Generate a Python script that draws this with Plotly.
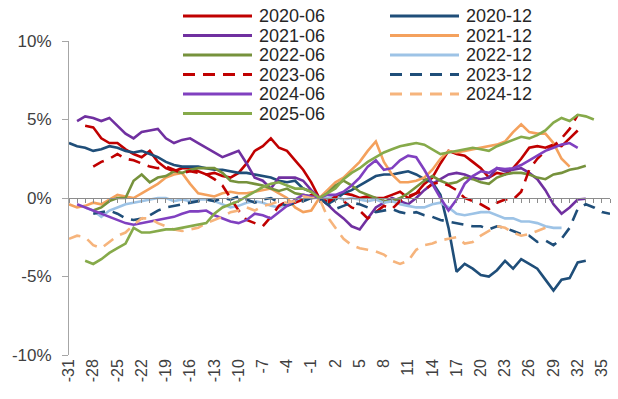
import plotly.graph_objects as go

X = list(range(-31, 37))
TICK_VALS = list(range(-31, 36, 3))
TICK_TEXT = [str(v) for v in TICK_VALS]
Y_TICKS = [-10, -5, 0, 5, 10]

NAMES = ["2020-06", "2020-12", "2021-06", "2021-12", "2022-06", "2022-12",
         "2023-06", "2023-12", "2024-06", "2024-12", "2025-06"]

# values (%) for x = -31, -30, ... ; None where the series has no point
s2020_06 = [None, None, 4.6, 4.5, 3.8, 3.5, 3.5, 3.1, 2.8, 2.6, 3.0, 2.3, 1.9, 1.7, 1.9, 1.9,
            1.7, 1.5, 1.6, 1.4, 1.3, 1.6, 2.2, 3.0, 3.3, 3.8, 3.2, 3.0, 2.4, 1.8, 1.0,
            0,
            -0.2, 0.1, 0.3, 0.2, 0.0, 0.1, 0.0, 0.0, 0.2, 0.4, 0.0, 0.3, 0.9, 1.3, 2.2, 3.0,
            2.8, 2.7, 2.3, 1.9, 1.3, 1.6, 1.5, 1.9, 2.5, 3.2, 3.3, 3.2, 3.4, 3.3, 3.8, 4.3]
s2020_12 = [3.5, 3.3, 3.2, 3.0, 3.1, 3.3, 3.2, 3.0, 2.9, 3.0, 2.8, 2.6, 2.3, 2.1, 2.0, 2.0,
            2.0, 1.9, 1.8, 1.8, 1.7, 1.6, 1.6, 1.5, 1.4, 1.3, 1.1, 1.0, 1.1, 0.6, 0.4,
            0,
            -0.4, -0.1, 0.3, 0.5, 0.8, 1.1, 1.4, 1.5, 1.5, 1.6, 1.7, 1.5, 1.2, 1.0, 0.2, -1.9,
            -4.7, -4.2, -4.5, -4.9, -5.0, -4.6, -4.0, -4.5, -3.9, -4.2, -4.5, -5.2, -5.9, -5.2,
            -5.1, -4.1, -4.0]
s2021_06 = [None, 4.9, 5.2, 5.1, 4.9, 5.1, 4.6, 4.1, 3.8, 4.2, 4.3, 4.4, 3.8, 3.5, 3.7, 3.8,
            3.5, 3.2, 2.9, 2.6, 2.8, 3.0, 2.2, 1.3, 1.1, 0.6, 1.3, 1.3, 1.3, 1.1, 0.5,
            0,
            -0.4, -0.9, -1.3, -1.8, -2.0, -1.3, -0.6, -0.3, 0.0, -0.2, -0.4, 0.0, 0.5, 0.9, 1.2,
            1.5, 1.6, 1.5, 1.3, 1.2, 1.3, 1.9, 1.7, 1.8, 1.9, 1.6, 1.2, 0.5, -0.4, -1.0, -0.6,
            -0.1, -0.05]
s2021_12 = [-0.4, -0.6, -0.5, -0.3, -0.4, -0.1, 0.2, 0.1, 0.0, 0.3, 0.6, 0.9, 1.3, 1.5, 1.6, 0.9,
            0.3, 0.2, 0.1, 0.3, 0.4, 0.3, 0.3, 0.4, 0.5, 0.6, 0.3, 0.0, -0.6, -0.9, -0.8,
            0,
            0.5, 1.0, 1.3, 1.8, 2.3, 3.0, 3.6, 2.3, 1.5, 1.0, 1.0, 1.1, 1.3, 1.8, 2.5, 3.0,
            2.9, 3.0, 3.1, 3.2, 3.3, 3.4, 3.6, 4.2, 4.7, 4.2, 4.1, 4.1, 3.5, 2.5, 2.0]
s2022_06 = [None, None, None, -0.8, -0.6, -0.2, 0.0, 0.0, 1.1, 1.5, 1.0, 1.3, 1.4, 1.7, 1.6, 1.8,
            1.9, 1.9, 1.9, 1.6, 1.1, 1.0, 1.0, 0.9, 0.8, 0.6, 0.45, 0.6, 0.3, 0.2, 0.1,
            0,
            0.3, 0.8, 1.1, 0.8, 0.4, 0.2, 0.0, -0.2, -0.2, 0.0, 0.3, 0.7, 1.1, 1.4, 1.1, 0.9,
            1.0, 1.3, 1.2, 1.0, 0.9, 1.3, 1.5, 1.6, 1.6, 1.5, 1.3, 1.2, 1.5, 1.6, 1.8, 1.9, 2.05]
s2022_12 = [None, None, -0.6, -0.8, -1.2, -0.8, -0.6, -0.4, -0.3, -0.2, -0.1, 0.0, 0.0, -0.2,
            -0.1, -0.2, -0.1, -0.1, -0.2, -0.4, -0.6, -0.5, -0.3, -0.2, -0.3, -0.5, -0.6, -0.4,
            -0.2, -0.1, 0.0,
            0,
            0.0, 0.1, -0.1, 0.0, -0.1, -0.2, -0.1, -0.3, -0.2, -0.4, -0.5, -0.6, -0.6, -0.4, -0.3,
            -0.6, -1.0, -1.1, -1.0, -0.9, -0.9, -1.1, -1.3, -1.3, -1.5, -1.5, -1.6, -1.8, -1.9, -1.9]
s2023_06 = [None, None, None, 2.0, 2.3, 2.5, 2.8, 2.5, 2.4, 2.2, 2.0, 1.9, 2.0, 1.8, 1.6, 1.7,
            1.6, 1.5, 1.2, 0.8, 0.0, -0.8, -1.4, -1.6, -1.8, -1.2, -0.5, -0.2, -0.3, -0.1, 0.2,
            0,
            -0.3, 0.1, -0.2, -0.6, -0.8, -1.3, -0.9, -0.5, -0.7, -0.2, 0.1, 0.3, 0.5, 0.9, 1.0,
            0.8, 0.5, 0.0, -0.2, -0.4, -0.7, -0.3, -0.1, -0.1, 0.4, 1.8, 2.5, 3.0, 3.3, 3.8, 4.4, 5.3]
s2023_12 = [None, None, None, -1.0, -0.9, -0.8, -1.0, -1.3, -1.4, -1.3, -1.1, -0.8, -0.6, -0.5,
            -0.4, -0.3, -0.2, -0.1, -0.2, 0.0, -0.1, 0.1, -0.1, -0.3, -0.1, 0.0, -0.3, -0.5, -0.3,
            -0.2, 0.0,
            0,
            -0.4, -0.7, -0.5, -0.3, -0.4, -0.6, -0.9, -0.8, -0.7, -0.9, -1.0, -0.9, -1.1, -1.2,
            -1.4, -1.5, -1.6, -1.7, -1.8, -1.8, -2.0, -1.8, -1.9, -2.1, -2.3, -2.4, -2.8, -2.7,
            -3.0, -2.6, -1.9, -0.7, -0.4, -0.6, -0.9, -1.0]
s2024_06 = [None, -0.4, -0.6, -0.8, -1.0, -1.2, -1.4, -1.6, -1.7, -1.6, -1.5, -1.4, -1.3, -1.2,
            -1.0, -0.85, -0.85, -0.8, -1.1, -1.3, -1.5, -1.6, -1.4, -1.0, -1.1, -1.3, -0.9, -0.5,
            -0.1, 0.2, 0.1,
            0,
            0.2, 0.2, 0.4, 0.8, 1.3, 2.0, 2.4, 1.8, 1.9, 2.4, 2.7, 2.6, 1.8, 0.9, 0.0, -0.8,
            -0.1, 0.9, 1.4, 1.7, 1.6, 1.9, 1.85, 1.9, 2.1, 2.4, 2.7, 3.0, 3.2, 3.4, 3.5, 3.2]
s2024_12 = [-2.6, -2.4, -2.5, -3.0, -3.2, -2.8, -2.4, -2.2, -1.7, -1.3, -1.3, -1.6, -1.8, -2.0,
            -2.1, -2.0, -1.9, -1.6, -1.4, -1.2, -0.9, -0.8, -0.6, -0.8, -0.5, -0.4, -0.2, -0.3,
            -0.2, 0.1, 0.0,
            0,
            -1.2, -1.9, -2.6, -3.0, -3.2, -3.3, -3.4, -3.6, -4.0, -4.2, -4.0, -3.3, -3.0, -2.9,
            -2.7, -2.6, -2.5, -2.9, -2.8, -2.4, -2.1, -1.8, -1.9, -2.2, -2.4, -2.3, -2.1, -1.9]
s2025_06 = [None, None, -4.0, -4.2, -3.9, -3.5, -3.2, -2.9, -1.9, -2.2, -2.2, -2.1, -2.0, -2.0,
            -1.9, -1.8, -1.7, -1.6, -1.0, -0.6, -0.4, -0.2, 0.1, 0.4, 0.7, 0.9, 1.0, 0.8, 0.6,
            0.6, 0.4,
            0,
            0.3, 0.6, 1.2, 1.6, 1.9, 2.3, 2.6, 2.9, 3.1, 3.3, 3.4, 3.5, 3.4, 3.1, 2.8, 2.9,
            3.0, 3.1, 3.2, 3.1, 3.0, 3.3, 3.5, 3.7, 3.9, 3.8, 4.0, 4.3, 4.8, 5.1, 4.9, 5.3,
            5.2, 5.0]

SERIES = [s2020_06, s2020_12, s2021_06, s2021_12, s2022_06, s2022_12,
          s2023_06, s2023_12, s2024_06, s2024_12, s2025_06]
COLORS = ["#C00000", "#1F4E79", "#7030A0", "#F4A15D", "#76923C", "#9DC3E6",
          "#C00000", "#1F4E79", "#8040C0", "#F6B47C", "#86AA4A"]
DASHED = [False, False, False, False, False, False, True, True, False, True, False]
DASH = "12px,8px"


def pad(vals):
    return list(vals) + [None] * (len(X) - len(vals))


fig = go.Figure()
for i, (name, vals, col, dsh) in enumerate(zip(NAMES, SERIES, COLORS, DASHED)):
    fig.add_trace(go.Scatter(
        x=X, y=pad(vals), name=name, mode="lines", showlegend=False,
        xaxis="x" if i == 0 else "x2",
        line=dict(color=col, width=2.6, dash=DASH if dsh else "solid"),
    ))

# plot-area geometry in pixels (layout only)
W, H = 618, 399
ML, MR, MT, MB = 69, 8, 41, 44
PW, PH = W - ML - MR, H - MT - MB


def px_x(px):
    return (px - ML) / PW


def px_y(py):
    return (H - MB - py) / PH


# manual two-column legend
shapes = []
annotations = []
COL_LINE = [(183, 252), (390, 459)]
COL_TEXT = [257, 464]
for i, (name, col, dsh) in enumerate(zip(NAMES, COLORS, DASHED)):
    c, r = i % 2, i // 2
    yy = px_y(16 + r * 19.5)
    shapes.append(dict(type="line", xref="paper", yref="paper",
                       x0=px_x(COL_LINE[c][0]), x1=px_x(COL_LINE[c][1]), y0=yy, y1=yy,
                       line=dict(color=col, width=3, dash=DASH if dsh else "solid")))
    annotations.append(dict(text=name, xref="paper", yref="paper", x=px_x(COL_TEXT[c]), y=yy,
                            xanchor="left", yanchor="middle", showarrow=False,
                            font=dict(size=18, color="#262626",
                                      family="Arial, Liberation Sans, sans-serif")))

fig.update_layout(
    width=W, height=H,
    margin=dict(l=ML, r=MR, t=MT, b=MB, autoexpand=False),
    paper_bgcolor="white", plot_bgcolor="white",
    font=dict(family="Arial, Liberation Sans, sans-serif", color="#404040"),
    shapes=shapes, annotations=annotations,
    xaxis=dict(range=[-31, 36], tickmode="array", tickvals=TICK_VALS, ticktext=TICK_TEXT,
               tickangle=-90, showline=False, ticks="", showgrid=False, zeroline=False,
               automargin=False, tickfont=dict(size=16, color="#404040")),
    xaxis2=dict(overlaying="x", matches="x", anchor="free", position=0.5,
                showline=True, linecolor="#8C8C8C", linewidth=1,
                ticks="outside", ticklen=4, tickcolor="#8C8C8C", tickmode="linear",
                tick0=-31, dtick=1, showticklabels=False, showgrid=False, zeroline=False,
                automargin=False),
    yaxis=dict(range=[-10, 10], tickmode="array", tickvals=Y_TICKS,
               ticktext=[f"{v}%" for v in Y_TICKS],
               showline=True, linecolor="#A6A6A6", linewidth=1, ticks="outside", ticklen=6,
               tickcolor="#A6A6A6", showgrid=False, zeroline=False, ticklabelstandoff=7,
               automargin=False, tickfont=dict(size=17, color="#404040")),
)

fig.write_html("out.html", config={"displayModeBar": False},
               post_script="document.body.style.margin='0px';document.body.style.overflow='hidden';")
